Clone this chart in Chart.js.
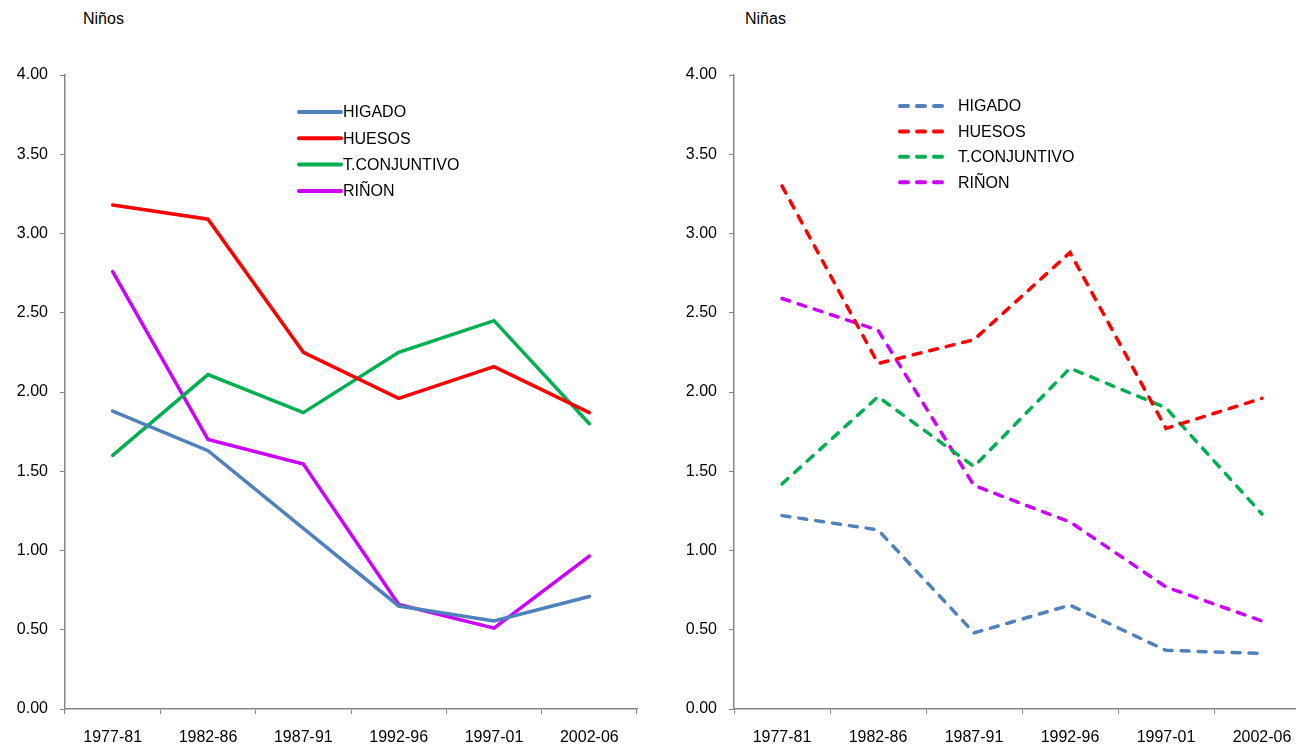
<!DOCTYPE html>
<html>
<head>
<meta charset="utf-8">
<script src="https://cdn.jsdelivr.net/npm/chart.js@4.4.0/dist/chart.umd.min.js"></script>
<style>
  html, body { margin: 0; padding: 0; background: #fff; overflow: hidden; width: 1296px; height: 749px; }
  canvas { position: absolute; top: 0; }
  #left { left: 0; }
  #right { left: 670px; }
  .ttl { position: absolute; top: 10px; font: 16px "Liberation Sans", Arial, sans-serif; color: #000; }
</style>
</head>
<body>
<div class="ttl" style="left:83px">Niños</div>
<div class="ttl" style="left:745px">Niñas</div>
<canvas id="left" width="645" height="749"></canvas>
<canvas id="right" width="640" height="749"></canvas>
<script>
// categories and series
var periods = ['1977-81', '1982-86', '1987-91', '1992-96', '1997-01', '2002-06'];
var seriesNames = ['HIGADO', 'HUESOS', 'T.CONJUNTIVO', 'RIÑON'];
var seriesColors = ['#4F81BD', '#FF0000', '#00B050', '#CC00FF'];

// Niños
var ninosHigado = [1.88, 1.63, 1.14, 0.65, 0.555, 0.71];
var ninosHuesos = [3.18, 3.09, 2.25, 1.96, 2.16, 1.87];
var ninosConjuntivo = [1.60, 2.11, 1.87, 2.25, 2.45, 1.80];
var ninosRinon = [2.76, 1.70, 1.545, 0.66, 0.51, 0.965];

// Niñas
var ninasHigado = [1.22, 1.13, 0.48, 0.655, 0.37, 0.35];
var ninasHuesos = [3.30, 2.18, 2.33, 2.88, 1.77, 1.96];
var ninasConjuntivo = [1.42, 1.97, 1.53, 2.15, 1.90, 1.23];
var ninasRinon = [2.59, 2.39, 1.41, 1.18, 0.77, 0.555];

var FONT = '"Liberation Sans", Arial, sans-serif';
var AXIS = '#868686';

// draws a small legend inside the plot, one row per dataset
var lineLegend = {
    id: 'lineLegend',
    afterDraw: function(chart, args, opts) {
        var ctx = chart.ctx;
        ctx.save();
        ctx.font = '16px ' + FONT;
        ctx.textBaseline = 'middle';
        chart.data.datasets.forEach(function(ds, i) {
            var y = opts.y + i * opts.gap;
            ctx.strokeStyle = ds.borderColor;
            ctx.lineWidth = 4;
            ctx.lineCap = 'round';
            ctx.setLineDash(ds.borderDash || []);
            ctx.beginPath();
            ctx.moveTo(opts.x, y);
            ctx.lineTo(opts.x + opts.len, y);
            ctx.stroke();
            ctx.setLineDash([]);
            ctx.fillStyle = '#000';
            ctx.fillText(ds.label, opts.textX, y + 1);
        });
        ctx.restore();
    }
};

function makeDatasets(values, dashed) {
    return values.map(function(v, i) {
        return {
            label: seriesNames[i],
            data: v,
            borderColor: seriesColors[i],
            backgroundColor: seriesColors[i],
            borderWidth: 3.5,
            borderDash: dashed ? [8, 9] : [],
            borderCapStyle: 'round',
            pointRadius: 0,
            tension: 0,
            fill: false
        };
    });
}

function makeChart(id, values, dashed, yWidth, padRight, legendOpts) {
    return new Chart(document.getElementById(id), {
        type: 'line',
        data: { labels: periods, datasets: makeDatasets(values, dashed) },
        plugins: [lineLegend],
        options: {
            responsive: false,
            animation: false,
            layout: { padding: { top: 75, right: padRight, left: 0, bottom: 0 } },
            plugins: {
                legend: { display: false },
                tooltip: { enabled: false },
                lineLegend: legendOpts
            },
            scales: {
                x: {
                    offset: true,
                    grid: { offset: true, drawOnChartArea: false, drawTicks: true, tickLength: 5, color: AXIS },
                    border: { display: true, color: AXIS, width: 1.5 },
                    ticks: { color: '#000', font: { family: FONT, size: 16 }, padding: 14, maxRotation: 0 },
                    afterFit: function(s) { s.height = 40; }
                },
                y: {
                    min: 0,
                    max: 4,
                    grid: { drawOnChartArea: false, drawTicks: true, tickLength: 5, color: AXIS },
                    border: { display: true, color: AXIS, width: 1.5 },
                    ticks: {
                        stepSize: 0.5,
                        color: '#000',
                        font: { family: FONT, size: 16 },
                        padding: 12,
                        callback: function(v) { return v.toFixed(2); }
                    },
                    afterFit: function(s) { s.width = yWidth; }
                }
            }
        }
    });
}

makeChart('left', [ninosHigado, ninosHuesos, ninosConjuntivo, ninosRinon], false, 65, 8,
    { x: 299, y: 112, gap: 26.3, len: 42, textX: 343 });
makeChart('right', [ninasHigado, ninasHuesos, ninasConjuntivo, ninasRinon], true, 64, 0,
    { x: 230, y: 106, gap: 25.4, len: 45, textX: 288 });
</script>
</body>
</html>
